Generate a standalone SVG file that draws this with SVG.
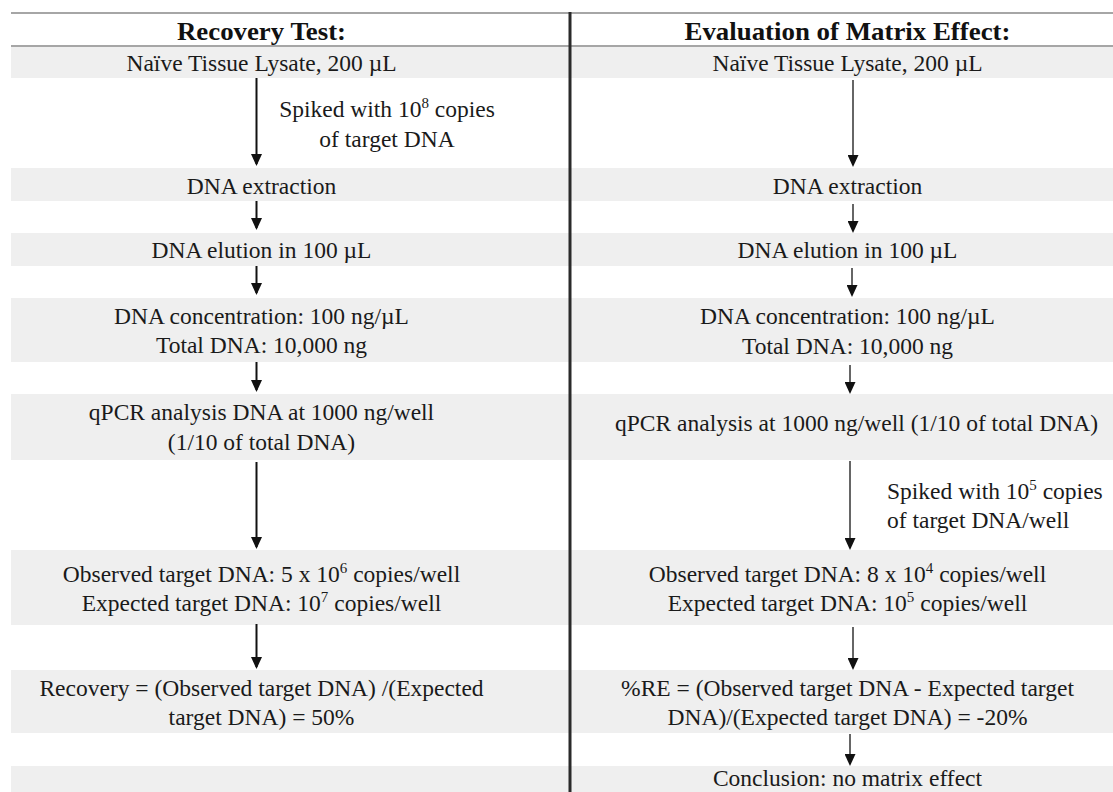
<svg xmlns="http://www.w3.org/2000/svg" width="1113" height="792" viewBox="0 0 1113 792">
<style>
.band{fill:#efefef}
.rule{stroke:#a6a6a6;stroke-width:2}
.t{font-family:"Liberation Serif","Times New Roman",serif;font-size:23.5px;fill:#1a1a1a;text-anchor:middle}
.tl{text-anchor:start}
.h{font-family:"Liberation Serif","Times New Roman",serif;font-size:25.5px;font-weight:bold;fill:#111;text-anchor:middle}
.sup{font-size:15px}
.a1{stroke:#111;stroke-width:2;fill:none}
.a2{stroke:#333;stroke-width:1.5;fill:none}
</style>
<defs>
<marker id="ah" markerUnits="userSpaceOnUse" markerWidth="12" markerHeight="11" refX="10" refY="5.5" orient="auto">
<path d="M0,0 L12,5.5 L0,11 Z" fill="#111"/>
</marker>
</defs>
<rect x="0" y="0" width="1113" height="792" fill="#fff"/>
<g id="rows">
<rect class="band" x="11" y="46" width="1102" height="32"/>
<rect class="band" x="11" y="168" width="1102" height="33"/>
<rect class="band" x="11" y="233" width="1102" height="33"/>
<rect class="band" x="11" y="298" width="1102" height="64"/>
<rect class="band" x="11" y="394" width="1102" height="66"/>
<rect class="band" x="11" y="550" width="1102" height="75"/>
<rect class="band" x="11" y="670" width="1102" height="63"/>
<rect class="band" x="11" y="766" width="1102" height="26"/>
<line class="rule" x1="11" y1="13" x2="1113" y2="13"/>
<line class="rule" x1="11" y1="46" x2="1113" y2="46"/>
<line x1="570" y1="12" x2="570" y2="792" stroke="#2a2a2a" stroke-width="3"/>
</g>
<g id="left-header"><text class="h" x="261.5" y="40" textLength="169" lengthAdjust="spacingAndGlyphs">Recovery Test:</text></g>
<g id="right-header"><text class="h" x="847.5" y="40" textLength="326" lengthAdjust="spacingAndGlyphs">Evaluation of Matrix Effect:</text></g>
<g id="L1"><text class="t" x="261.5" y="71">Naïve Tissue Lysate, 200 µL</text></g>
<g id="L-spike"><text class="t" x="387" y="117">Spiked with 10<tspan class="sup" dy="-9">8</tspan><tspan dy="9"> copies</tspan></text><text class="t" x="387" y="147">of target DNA</text></g>
<g id="L2"><text class="t" x="261.5" y="194">DNA extraction</text></g>
<g id="L3"><text class="t" x="261.5" y="258">DNA elution in 100 µL</text></g>
<g id="L4"><text class="t" x="261.5" y="324">DNA concentration: 100 ng/µL</text><text class="t" x="261.5" y="353">Total DNA: 10,000 ng</text></g>
<g id="L5"><text class="t" x="261.5" y="420">qPCR analysis DNA at 1000 ng/well</text><text class="t" x="261.5" y="450">(1/10 of total DNA)</text></g>
<g id="L6"><text class="t" x="261.5" y="582">Observed target DNA: 5 x 10<tspan class="sup" dy="-9">6</tspan><tspan dy="9"> copies/well</tspan></text><text class="t" x="261.5" y="611">Expected target DNA: 10<tspan class="sup" dy="-9">7</tspan><tspan dy="9"> copies/well</tspan></text></g>
<g id="L7"><text class="t" x="261.5" y="696">Recovery = (Observed target DNA) /(Expected</text><text class="t" x="261.5" y="725">target DNA) = 50%</text></g>
<g id="R1"><text class="t" x="847.5" y="71">Naïve Tissue Lysate, 200 µL</text></g>
<g id="R2"><text class="t" x="847.5" y="194">DNA extraction</text></g>
<g id="R3"><text class="t" x="847.5" y="258">DNA elution in 100 µL</text></g>
<g id="R4"><text class="t" x="847.5" y="324">DNA concentration: 100 ng/µL</text><text class="t" x="847.5" y="354">Total DNA: 10,000 ng</text></g>
<g id="R5"><text class="t" x="856.5" y="431">qPCR analysis at 1000 ng/well (1/10 of total DNA)</text></g>
<g id="R-spike"><text class="t tl" x="887" y="499">Spiked with 10<tspan class="sup" dy="-9">5</tspan><tspan dy="9"> copies</tspan></text><text class="t tl" x="887" y="528">of target DNA/well</text></g>
<g id="R6"><text class="t" x="847.5" y="582">Observed target DNA: 8 x 10<tspan class="sup" dy="-9">4</tspan><tspan dy="9"> copies/well</tspan></text><text class="t" x="847.5" y="611">Expected target DNA: 10<tspan class="sup" dy="-9">5</tspan><tspan dy="9"> copies/well</tspan></text></g>
<g id="R7"><text class="t" x="847.5" y="696">%RE = (Observed target DNA - Expected target</text><text class="t" x="847.5" y="725">DNA)/(Expected target DNA) = -20%</text></g>
<g id="R8"><text class="t" x="847.5" y="786">Conclusion: no matrix effect</text></g>
<g id="connectors">
<line class="a1" x1="256.5" y1="78" x2="256.5" y2="164" marker-end="url(#ah)"/>
<line class="a1" x1="256.5" y1="201" x2="256.5" y2="228" marker-end="url(#ah)"/>
<line class="a1" x1="256.5" y1="266" x2="256.5" y2="293" marker-end="url(#ah)"/>
<line class="a1" x1="256.5" y1="362" x2="256.5" y2="390" marker-end="url(#ah)"/>
<line class="a1" x1="256.5" y1="462" x2="256.5" y2="547" marker-end="url(#ah)"/>
<line class="a1" x1="256.5" y1="624" x2="256.5" y2="667" marker-end="url(#ah)"/>
<line class="a2" x1="853" y1="80" x2="853" y2="165" marker-end="url(#ah)"/>
<line class="a2" x1="853" y1="204" x2="853" y2="231" marker-end="url(#ah)"/>
<line class="a2" x1="852" y1="268" x2="852" y2="295" marker-end="url(#ah)"/>
<line class="a2" x1="850" y1="365" x2="850" y2="392" marker-end="url(#ah)"/>
<line class="a2" x1="850" y1="461" x2="850" y2="548" marker-end="url(#ah)"/>
<line class="a2" x1="853" y1="627" x2="853" y2="668" marker-end="url(#ah)"/>
<line class="a2" x1="850" y1="734" x2="850" y2="764" marker-end="url(#ah)"/>
</g>
</svg>
